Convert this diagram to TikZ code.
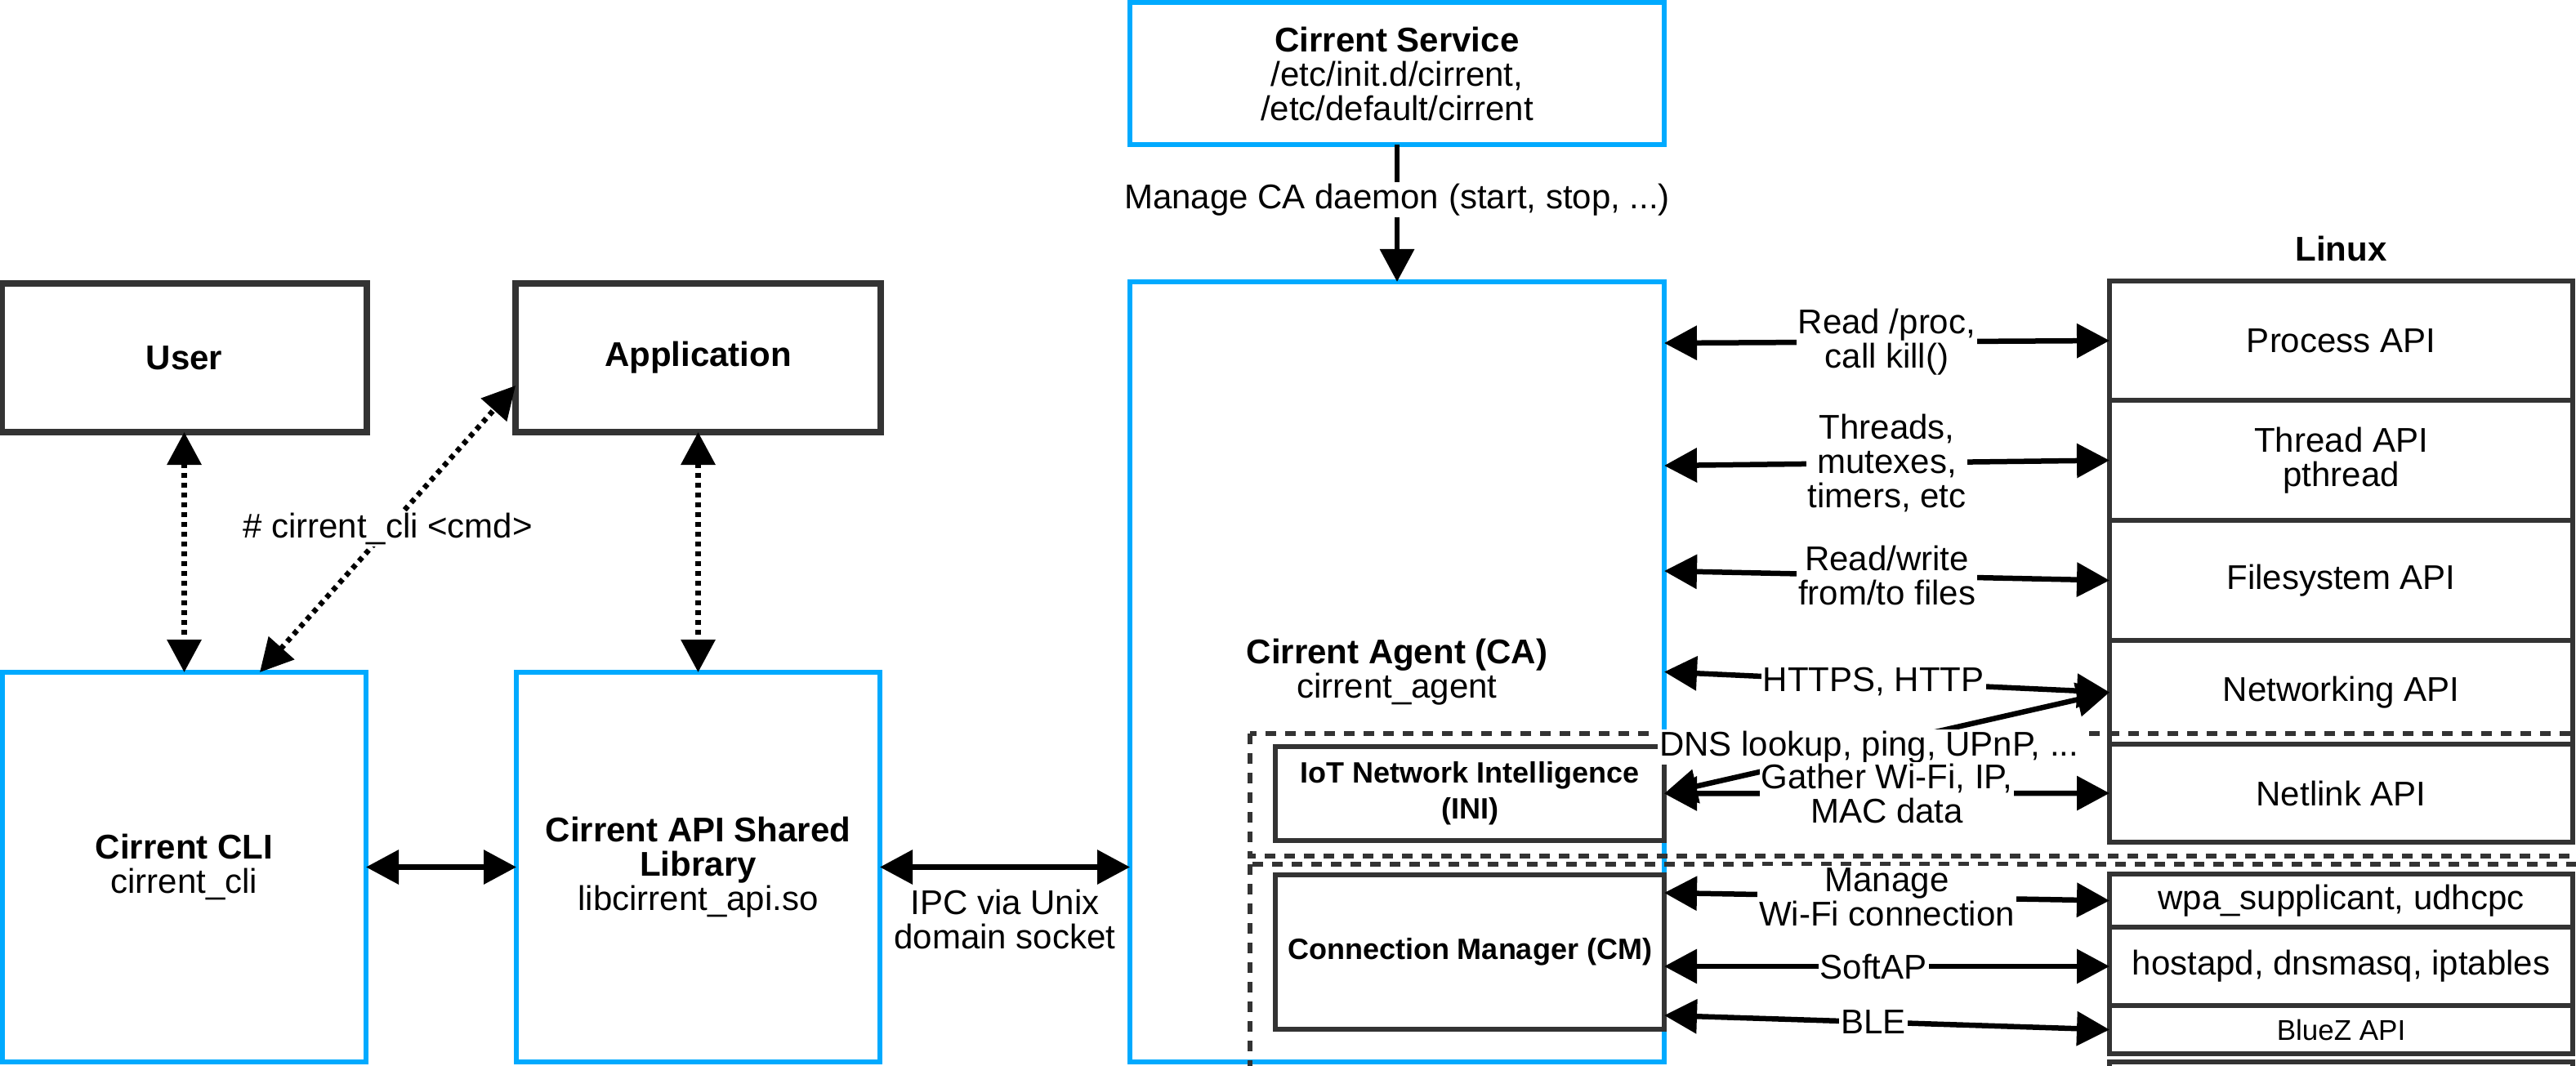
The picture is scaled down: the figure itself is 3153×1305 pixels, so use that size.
\documentclass[tikz,border=0pt]{standalone}
\usepackage{fontspec}
\setmainfont{Liberation Sans}
\usepackage{tikz}
\usetikzlibrary{arrows.meta, positioning, calc}

\definecolor{cirblue}{RGB}{0,170,255}
\definecolor{boxgray}{RGB}{51,51,51}

\begin{document}
\begin{tikzpicture}[
    x=0.5pt, y=-0.5pt,
    font=\fontsize{21}{21}\selectfont,
    comp/.style={rectangle, draw=cirblue, line width=3pt, fill=white, align=center, inner sep=0pt, outer sep=0pt},
    actor/.style={rectangle, draw=boxgray, line width=4pt, fill=white, align=center, outer sep=0pt, minimum width=223.5pt, minimum height=91pt, font=\fontsize{21}{21}\selectfont\bfseries},
    module/.style={rectangle, draw=boxgray, line width=3pt, fill=white, align=center, inner sep=0pt, outer sep=0pt, minimum width=238pt, font=\fontsize{18}{22}\selectfont\bfseries},
    api/.style={rectangle, draw=boxgray, line width=3pt, fill=white, align=center, inner sep=0pt, outer sep=0pt, minimum width=283.5pt},
    group/.style={draw=boxgray, line width=2.75pt, dash pattern=on 6.5pt off 5.5pt},
    flow/.style={-{Triangle[length=20pt,width=20.5pt]}, line width=3.25pt, black},
    link/.style={{Triangle[length=20pt,width=20.5pt]}-{Triangle[length=20pt,width=20.5pt]}, line width=3.25pt, black},
    dots/.style={link, dash pattern=on 3pt off 3pt},
    lbl/.style={fill=white, inner sep=1pt, align=center}
]
\useasboundingbox (0,0) rectangle (3153,1305);

% Nodes
\node (cli) [comp, minimum width=222.5pt, minimum height=238.5pt] at (225.5,1061.5) {\textbf{Cirrent CLI}\\cirrent\_cli};
\node (lib) [comp, minimum width=222.5pt, minimum height=238.5pt, right=92pt of cli] {\textbf{Cirrent API Shared}\\\textbf{Library}\\libcirrent\_api.so};
\node (user) [actor, above=147pt of cli] {User};
\node (app) [actor, above=147pt of lib] {Application};
\node (service) [comp, minimum width=327pt, minimum height=87pt] at (1710,90) {\textbf{Cirrent Service}\\/etc/init.d/cirrent,\\/etc/default/cirrent};
\node (agent) [comp, minimum width=327pt, minimum height=477.5pt, below=84pt of service] {\textbf{Cirrent Agent (CA)}\\cirrent\_agent};
\node (ini) [module, minimum height=57.5pt, anchor=north east] at ($(agent.north east)+(0,569)$) {IoT Network Intelligence\\(INI)};
\node (cm) [module, minimum height=94.5pt, below=21pt of ini] {Connection Manager (CM)};

% Linux
\node (process) [api, minimum height=73pt, anchor=north west] at (2582,344) {Process API};
\node (thread) [api, minimum height=73.5pt, below=0pt of process] {Thread API\\pthread};
\node (files) [api, minimum height=73.5pt, below=0pt of thread] {Filesystem API};
\node (net) [api, minimum height=63.5pt, below=0pt of files] {Networking API};
\node (netlink) [api, minimum height=60pt, below=0pt of net] {Netlink API};
\node (wpa) [api, minimum height=32.5pt, below=19.5pt of netlink] {wpa\_supplicant, udhcpc};
\node (hostapd) [api, minimum height=48pt, below=0pt of wpa] {hostapd, dnsmasq, iptables};
\node (bluez) [api, minimum height=29.5pt, below=0pt of hostapd, font=\fontsize{17.5}{17.5}\selectfont] {BlueZ API};
\node (spare) [api, minimum height=30pt, below=5pt of bluez] {};
\node (linux) [above=12pt of process, inner sep=0pt, font=\fontsize{21}{21}\selectfont\bfseries] {Linux};

% Groups
\draw[group] ($(ini.north west)+(-31,-16)$) rectangle ($(ini.south east)+(1123,19)$);
\draw[group] ($(cm.north west)+(-31,-13)$) rectangle ($(cm.south east)+(1123,60)$);

% Paths
\draw[flow] (service) -- node[lbl, pos=0.4] {Manage CA daemon (start, stop, ...)} (agent);
\draw[dots] (user) -- (cli);
\draw[dots] (app) -- (lib);
\draw[dots] ($(cli.north)+(92.5,0)$) -- node[lbl] {\# cirrent\_cli <cmd>} ($(app.west)+(0,34)$);
\draw[link] (cli) -- (lib);
\draw[link] (lib.east) -- node[lbl, midway, below=11pt] {IPC via Unix\\domain socket} (lib.east -| agent.west);
\draw[link] ($(agent.east)+(0,-402.5)$) -- node[lbl] {Read /proc,\\call kill()} (process.west);
\draw[link] ($(agent.east)+(0,-252.5)$) -- node[lbl] {Threads,\\mutexes,\\timers, etc} (thread.west);
\draw[link] ($(agent.east)+(0,-123.5)$) -- node[lbl] {Read/write\\from/to files} (files.west);
\draw[link] (agent.east) -- node[lbl, pos=0.47] {HTTPS, HTTP} (net.west);
\draw[link] (ini.east) -- node[lbl, pos=0.46] {DNS lookup, ping, UPnP, ...} (net.west);
\draw[link] (ini.east) -- node[lbl] {Gather Wi-Fi, IP,\\MAC data} (netlink.west);
\draw[link] ($(cm.east)+(0,-72.5)$) -- node[lbl] {Manage\\Wi-Fi connection} (wpa.west);
\draw[link] ($(cm.east)+(0,17.5)$) -- node[lbl, pos=0.47] {SoftAP} (hostapd.west);
\draw[link] ($(cm.east)+(0,77.5)$) -- node[lbl, pos=0.47] {BLE} (bluez.west);

\end{tikzpicture}
\end{document}
